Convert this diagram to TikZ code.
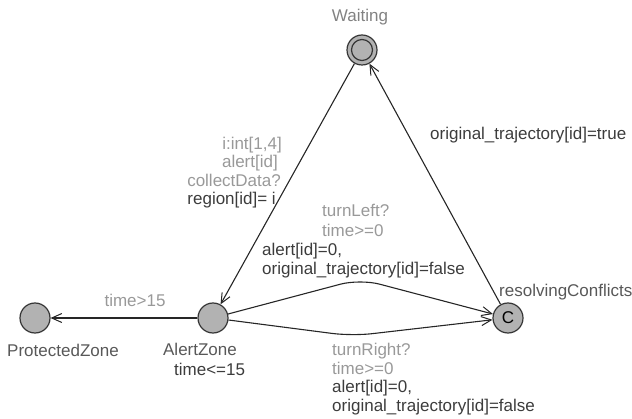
\documentclass[tikz,border=0pt]{standalone}
\usepackage{fontspec}
\setmainfont{Liberation Sans}
\usetikzlibrary{arrows.meta}

\definecolor{guardgray}{HTML}{999999}
\definecolor{assigngray}{HTML}{3C3C3C}
\definecolor{namegray}{HTML}{585858}
\definecolor{locfill}{HTML}{B2B2B2}
\definecolor{locline}{HTML}{363636}

\tikzset{
  loc/.style={circle, draw=locline, fill=locfill, line width=1.2pt,
              minimum size=30pt, inner sep=0pt},
  edge/.style={draw=black!85, line width=1.1pt,
               -{Straight Barb[length=10pt,width=9pt,line width=1pt]}},
  lbl/.style={font=\fontsize{17}{18.5}\selectfont, inner sep=0pt},
  guard/.style={lbl, text=guardgray},
  assign/.style={lbl, text=assigngray},
  locname/.style={lbl, text=namegray},
}

\begin{document}
\begin{tikzpicture}[x=1pt, y=-1pt]
  \useasboundingbox (0,0) rectangle (632,419);

  % locations
  \node[loc] (waiting) at (362,50) {};
  \draw[locline, line width=1.2pt] (waiting.center) circle (10.5pt);
  \node[loc] (prot) at (35,318) {};
  \node[loc] (alert) at (213,318) {};
  \node[loc, font=\fontsize{17}{18.5}\selectfont] (resolve) at (508,318) {C};

  % location names and invariant
  \node[locname, anchor=base, text=guardgray!85!black] (nWaiting) at (360,22) {Waiting};
  \node[locname, anchor=base] (nProt) at (63,357) {ProtectedZone};
  \node[locname, anchor=base] (nAlert) at (200,356) {AlertZone};
  \node[assign, anchor=base west] (inv) at (174,376) {time<=15};
  \node[locname, anchor=base west] (nResolve) at (499,297) {resolvingConflicts};

  % transitions
  \draw[edge] (waiting) -- (alert);
  \draw[edge] (resolve) -- (waiting);
  \draw[edge] (alert) -- (prot);
  \coordinate (upBend) at (360,279);
  \coordinate (lowBend) at (352,336);
  \draw[edge, rounded corners=20pt] (alert) -- (upBend) -- (resolve);
  \draw[edge, rounded corners=20pt] (alert) -- (lowBend) -- (resolve);

  % labels: Waiting -> AlertZone
  \node[guard, anchor=base east] (sel) at (282,150) {i:int[1,4]};
  \node[guard, anchor=base east] (g1) at (278,168) {alert[id]};
  \node[guard, anchor=base east] (s1) at (281,187) {collectData?};
  \node[assign, anchor=base east] (a1) at (276,205) {region[id]= i};

  % labels: AlertZone -> ProtectedZone
  \node[guard, anchor=base] (g0) at (135,307) {time>15};

  % labels: upper AlertZone -> resolvingConflicts
  \node[guard, anchor=base west] (s2) at (322,217) {turnLeft?};
  \node[guard, anchor=base west] (g2) at (322,237) {time>=0};
  \node[assign, anchor=base west] (a2) at (262,256) {alert[id]=0,};
  \node[assign, anchor=base west] (a2b) at (262,275) {original\_trajectory[id]=false};

  % labels: lower AlertZone -> resolvingConflicts
  \node[guard, anchor=base west] (s3) at (332,356) {turnRight?};
  \node[guard, anchor=base west] (g3) at (332,375) {time>=0};
  \node[assign, anchor=base west] (a3) at (332,393) {alert[id]=0,};
  \node[assign, anchor=base west] (a3b) at (332,412) {original\_trajectory[id]=false};

  % label: resolvingConflicts -> Waiting
  \node[assign, anchor=base west] (a4) at (430,140) {original\_trajectory[id]=true};
\end{tikzpicture}
\end{document}
